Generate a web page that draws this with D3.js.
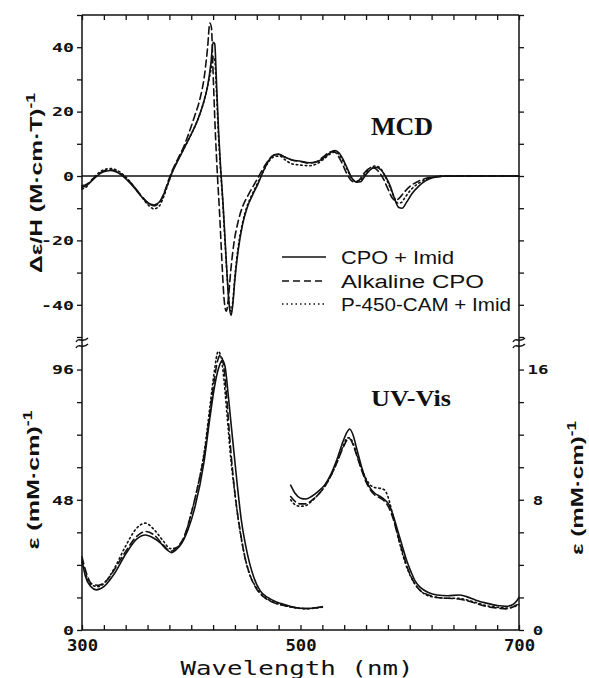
<!DOCTYPE html>
<html><head><meta charset="utf-8">
<script src="https://cdn.jsdelivr.net/npm/d3@7"></script>
<style>body{margin:0;background:#fff}svg{display:block}</style>
</head><body>
<script>
// ---------- DATA ----------
const xTicks = d3.range(300, 701, 20);
const xLabels = [300, 500, 700];
const mcdTicks = d3.range(-50, 51, 10);
const mcdLabels = [40, 20, 0, -20, -40];
const uvLeftTicks = d3.range(0, 97, 12);
const uvLeftLabels = [0, 48, 96];
const uvRightTicks = d3.range(0, 17, 2);
const uvRightLabels = [0, 8, 16];
const legendLabels = ["CPO + Imid", "Alkaline CPO", "P-450-CAM + Imid"];

// MCD  [wavelength nm, Δε/H]
const mcdCpoImid = [[300,-3.5],[304,-3.0],[308,-1.8],[313,-0.2],[319,1.2],[326,1.7],[333,1.0],[340,-0.8],[347,-3.3],[354,-6.2],[360,-8.3],[366,-9.0],[371,-8.0],[375,-5.5],[379,-2.0],[383,1.5],[388,5.0],[394,9.0],[400,13.0],[406,17.5],[411,22.5],[415,28],[418,35],[420,41.5],[421.5,41],[423,30],[425,14],[427,2],[429,-8],[431,-20],[433,-32],[435,-41],[436.5,-43.3],[438,-40],[440,-32],[443,-23],[447,-15],[451,-10],[456,-6],[461,-2.5],[466,1.5],[471,4.8],[476,6.6],[480,6.8],[485,6.0],[492,5.0],[500,4.6],[508,4.1],[515,4.4],[521,5.6],[527,7.2],[531,7.9],[535,7.3],[539,5.2],[543,2.2],[547,-0.6],[551,-1.9],[555,-1.8],[559,0.0],[564,2.0],[569,2.7],[574,1.8],[578,-0.2],[582,-3.0],[586,-7.0],[590,-9.8],[593,-10.0],[597,-8.2],[602,-5.5],[608,-3.2],[614,-1.6],[621,-0.5],[630,-0.1],[650,0],[700,0]];
const mcdAlkaline = [[300,-3.0],[304,-2.6],[308,-1.5],[313,0],[319,1.4],[326,1.9],[333,1.2],[340,-0.6],[347,-3.0],[354,-6.0],[360,-8.2],[366,-9.3],[371,-8.2],[375,-5.5],[379,-1.5],[383,2.0],[388,5.5],[393,9.0],[398,13.5],[403,18.5],[408,24],[412,31],[415,40],[417,47.5],[418.5,46],[420,32],[422,14],[424,0],[426,-12],[428,-26],[430,-38],[432,-42],[434,-38],[436,-30],[439,-21],[443,-14],[447,-9.5],[452,-6],[457,-3],[462,0],[467,3],[472,5.5],[477,6.6],[481,6.6],[486,5.8],[492,5.0],[500,4.5],[508,4.0],[515,4.5],[521,6.0],[526,7.3],[530,7.7],[534,6.5],[538,4.0],[542,1.0],[546,-1.2],[550,-2.0],[554,-1.2],[558,0.8],[563,2.3],[567,2.5],[572,1.2],[576,-1.0],[580,-4.0],[584,-6.8],[587,-7.6],[590,-7.0],[595,-5.0],[601,-3.0],[608,-1.6],[615,-0.7],[625,-0.2],[640,0],[700,0]];
const mcdP450 = [[300,-4.0],[304,-3.4],[308,-1.6],[313,0.3],[319,1.8],[326,2.3],[333,1.6],[340,-0.3],[347,-3.0],[354,-6.2],[360,-8.8],[366,-10.2],[371,-9.2],[375,-6.2],[379,-2.2],[383,1.5],[388,5.0],[394,9.0],[400,13.0],[406,17.5],[411,22.5],[415,28],[418,33],[420,37],[421.5,36],[423,27],[425,12],[427,1],[429,-9],[431,-21],[433,-32],[435,-40],[436.5,-42],[438,-39],[440,-31],[443,-22],[447,-14.5],[451,-9.5],[456,-5.5],[461,-2],[466,1.5],[471,4.5],[476,6.0],[481,6.2],[486,5.0],[492,3.8],[500,3.4],[508,3.2],[515,3.8],[521,5.2],[527,6.8],[531,7.4],[535,6.8],[539,4.6],[543,1.8],[547,-0.8],[551,-1.6],[555,-1.2],[559,0.6],[564,2.6],[569,3.1],[574,2.0],[578,-0.5],[582,-3.5],[586,-6.8],[589,-8.4],[592,-8.3],[596,-6.5],[601,-4.3],[607,-2.5],[614,-1.2],[621,-0.4],[630,0],[700,0]];

// UV-Vis Soret region (left axis, ε mM^-1 cm^-1)
const soretCpoImid = [[300,26],[303,20],[308,16],[313,14.8],[320,16],[330,21],[340,28],[350,33.5],[358,35],[365,34],[372,32],[378,29.5],[382,28.5],[386,29.5],[392,32.5],[397,37],[403.5,45.5],[411.5,61.5],[417,78],[421,89],[425,96.5],[428.5,99.4],[431,97],[434,86],[437,73.8],[442,54],[446,40],[450,30.7],[457,19.7],[463,14.5],[470,12],[478,10.3],[486,9.3],[495,8.3],[505,7.9],[512,8.1],[520,8.6]];
const soretAlkaline = [[300,27],[304,21],[309,17],[315,16.5],[322,18],[330,22.5],[340,29],[350,34.5],[358,36.3],[366,35],[374,31.5],[381,29],[387,30.5],[393,34],[400,43],[406,53],[412,65],[417,80],[421,92],[424,99],[426.5,101.3],[429,99],[432,88],[435,72],[438,58],[441,47],[445,36],[449,27],[454,20],[460,15],[467,12],[476,10],[485,9],[495,8.3],[505,7.9],[512,8.1],[520,8.5]];
const soretP450 = [[300,25],[304,20],[309,16.5],[315,16],[322,18],[330,23],[340,31],[350,37.5],[358,39.4],[366,37],[374,33],[381,30],[387,30.5],[393,33.5],[400,43],[406,53],[412,66],[417,82],[421,95],[424.7,102.7],[427,101],[430,92],[433,78],[436,64],[440,50],[444,38],[448,29],[453,21],[459,16],[466,12.5],[475,10.3],[485,9],[495,8.2],[505,7.8],[512,8.0],[520,8.4]];

// UV-Vis visible region (right axis)
const visCpoImid = [[491,8.9],[495,8.4],[500,8.1],[505,8.05],[510,8.2],[516,8.5],[522,8.9],[528,9.6],[534,10.6],[539,11.6],[543,12.2],[545,12.35],[548,12.0],[552,11.0],[556,10.0],[560,9.2],[564,8.7],[568,8.4],[573,8.2],[577,8.0],[581,7.7],[585,7.0],[589,6.1],[593,5.2],[597,4.3],[601,3.6],[605,3.0],[610,2.6],[617,2.3],[625,2.15],[635,2.1],[645,2.15],[652,2.05],[660,1.85],[670,1.65],[680,1.5],[688,1.45],[694,1.55],[698,1.8],[700,2.0]];
const visAlkaline = [[491,8.2],[495,7.9],[500,7.75],[505,7.75],[510,7.95],[516,8.3],[522,8.8],[528,9.5],[534,10.4],[539,11.2],[543,11.7],[545,11.75],[548,11.4],[552,10.6],[556,9.8],[560,9.1],[564,8.6],[568,8.3],[573,8.1],[577,7.9],[581,7.5],[585,6.8],[589,5.8],[593,4.9],[597,4.0],[601,3.3],[605,2.8],[610,2.4],[617,2.15],[625,2.0],[635,1.95],[645,1.9],[652,1.8],[660,1.65],[670,1.45],[680,1.35],[688,1.3],[694,1.4],[698,1.55],[700,1.6]];
const visP450 = [[491,8.0],[495,7.7],[500,7.6],[505,7.65],[510,7.9],[516,8.3],[522,8.8],[528,9.5],[534,10.4],[539,11.3],[543,11.8],[545,11.8],[548,11.5],[552,10.7],[556,9.9],[560,9.3],[564,8.9],[568,8.75],[573,8.7],[577,8.6],[580,8.2],[584,7.2],[588,6.1],[592,5.0],[596,4.1],[600,3.4],[605,2.8],[610,2.4],[617,2.1],[625,2.0],[635,1.95],[645,1.95],[652,1.85],[660,1.7],[670,1.5],[680,1.4],[688,1.35],[694,1.4],[698,1.5],[700,1.55]];

// ---------- DRAW ----------
const W = 589, H = 678;
const L = 82, R = 519, T = 15, B = 630, MID = 337;
const ink = "#111";
const svg = d3.select("body").append("svg").attr("width", W).attr("height", H);
svg.append("rect").attr("width", W).attr("height", H).attr("fill", "#fff");

const x = d3.scaleLinear([300, 700], [L, R]);
const yM = d3.scaleLinear([-50, 50], [MID, T]);
const yL = d3.scaleLinear([0, 108], [B, MID]);
const yR = d3.scaleLinear([0, 18], [B, MID]);

const mono = "'DejaVu Sans Mono', 'Liberation Mono', monospace";
const sans = "'Liberation Sans', Arial, Helvetica, sans-serif";
const serif = "'Liberation Serif', 'Times New Roman', serif";

function styleAxis(g) {
  g.select(".domain").remove();
  g.selectAll(".tick line").attr("stroke", ink).attr("stroke-width", 1.3);
  g.selectAll(".tick text").attr("fill", ink).attr("font-family", mono).attr("font-weight", "bold");
}
function fmt(labels) { return d => labels.includes(d) ? String(d) : ""; }

// bottom axis
const gB = svg.append("g").attr("transform", `translate(0,${B})`)
  .call(d3.axisBottom(x).tickValues(xTicks).tickSize(-5).tickSizeOuter(0).tickFormat(fmt(xLabels)));
styleAxis(gB);
gB.selectAll(".tick text").attr("y", 21).attr("dy", null).attr("font-size", 15)
  .each(function(){ const t=d3.select(this).text(); if (t) d3.select(this).attr("textLength", t.length*10.4).attr("lengthAdjust","spacingAndGlyphs"); });
// top axis
const gT = svg.append("g").attr("transform", `translate(0,${T})`)
  .call(d3.axisTop(x).tickValues(xTicks).tickSize(-5).tickSizeOuter(0).tickFormat(""));
styleAxis(gT);

// left axes
function leftTexts(g) {
  g.selectAll(".tick text").attr("x", -8).attr("font-size", 12).attr("dy", "0.36em")
    .each(function(){ const t=d3.select(this).text(); if (t) d3.select(this).attr("textLength", t.length*11).attr("lengthAdjust","spacingAndGlyphs"); });
}
const gLM = svg.append("g").attr("transform", `translate(${L},0)`)
  .call(d3.axisLeft(yM).tickValues(mcdTicks).tickSize(5).tickSizeOuter(0).tickFormat(fmt(mcdLabels)));
styleAxis(gLM); leftTexts(gLM);
const gLU = svg.append("g").attr("transform", `translate(${L},0)`)
  .call(d3.axisLeft(yL).tickValues(uvLeftTicks).tickSize(5).tickSizeOuter(0).tickFormat(fmt(uvLeftLabels)));
styleAxis(gLU); leftTexts(gLU);

// right axes
const gRM = svg.append("g").attr("transform", `translate(${R},0)`)
  .call(d3.axisRight(yM).tickValues(mcdTicks).tickSize(5).tickSizeOuter(0).tickFormat(""));
styleAxis(gRM);
const gRU = svg.append("g").attr("transform", `translate(${R},0)`)
  .call(d3.axisRight(yR).tickValues(uvRightTicks).tickSize(5).tickSizeOuter(0).tickFormat(fmt(uvRightLabels)));
styleAxis(gRU);
gRU.selectAll(".tick text").attr("x", 19).attr("text-anchor", "middle").attr("font-size", 12).attr("dy", "0.36em")
  .each(function(){ const t=d3.select(this).text(); if (t) d3.select(this).attr("textLength", t.length*10.5).attr("lengthAdjust","spacingAndGlyphs"); });

// frame
const frame = svg.append("g").attr("stroke", ink).attr("stroke-width", 1.5).attr("fill", "none");
frame.append("line").attr("x1", L).attr("x2", R).attr("y1", T).attr("y2", T);
frame.append("line").attr("x1", L).attr("x2", R).attr("y1", B).attr("y2", B);
frame.append("line").attr("x1", L).attr("x2", L).attr("y1", T).attr("y2", B);
frame.append("line").attr("x1", R).attr("x2", R).attr("y1", T).attr("y2", B);
// zero line of MCD
frame.append("line").attr("x1", L).attr("x2", R).attr("y1", yM(0)).attr("y2", yM(0));

// axis break marks
[L, R].forEach(ax => {
  [340, 346].forEach(by => {
    svg.append("path")
      .attr("d", `M${ax-6},${by+2} C${ax-3},${by-4} ${ax},${by+4} ${ax+6},${by-2}`)
      .attr("fill", "none").attr("stroke", ink).attr("stroke-width", 1.5);
  });
});

// series
const styles = [
  { dash: null, w: 1.6 },
  { dash: "7,4", w: 1.6 },
  { dash: "1.5,3", w: 1.6 }
];
function drawSeries(data, ys, st) {
  const line = d3.line().x(d => x(d[0])).y(d => ys(d[1])).curve(d3.curveMonotoneX);
  svg.append("path").datum(data).attr("d", line).attr("fill", "none")
    .attr("stroke", ink).attr("stroke-width", st.w).attr("stroke-dasharray", st.dash)
    .attr("stroke-linejoin", "round").attr("stroke-linecap", "round");
}
[mcdCpoImid, mcdAlkaline, mcdP450].forEach((d, i) => drawSeries(d, yM, styles[i]));
[soretCpoImid, soretAlkaline, soretP450].forEach((d, i) => drawSeries(d, yL, styles[i]));
[visCpoImid, visAlkaline, visP450].forEach((d, i) => drawSeries(d, yR, styles[i]));

// legend
const legY = [257, 281, 304];
const legW = [113, 143, 170];
legendLabels.forEach((lab, i) => {
  svg.append("line").attr("x1", 282).attr("x2", 326).attr("y1", legY[i]).attr("y2", legY[i])
    .attr("stroke", ink).attr("stroke-width", 1.4).attr("stroke-dasharray", styles[i].dash);
  svg.append("text").attr("x", 341).attr("y", legY[i] + 6.5).attr("font-family", sans)
    .attr("font-size", 18).attr("fill", ink).attr("textLength", legW[i]).attr("lengthAdjust", "spacingAndGlyphs")
    .text(lab);
});

// panel titles
svg.append("text").attr("x", 402).attr("y", 135).attr("text-anchor", "middle")
  .attr("font-family", serif).attr("font-weight", "bold").attr("font-size", 26).attr("fill", ink).text("MCD");
svg.append("text").attr("x", 411).attr("y", 406).attr("text-anchor", "middle")
  .attr("font-family", serif).attr("font-weight", "bold").attr("font-size", 23).attr("fill", ink)
  .attr("textLength", 80).attr("lengthAdjust", "spacingAndGlyphs").text("UV-Vis");

// axis titles
function yTitle(tx, ty, len, main) {
  const t = svg.append("text").attr("transform", `translate(${tx},${ty}) rotate(-90)`)
    .attr("text-anchor", "middle").attr("font-family", sans).attr("font-weight", "bold")
    .attr("font-size", 17).attr("fill", ink).attr("textLength", len).attr("lengthAdjust", "spacingAndGlyphs");
  t.append("tspan").text(main);
  t.append("tspan").attr("dy", -7).attr("font-size", 12).text("-1");
}
yTitle(42, 183, 180, "Δε/H  (M·cm·T)");
yTitle(39, 480, 139, "ε (mM·cm)");
yTitle(583, 488, 134, "ε (mM·cm)");

svg.append("text").attr("x", 297).attr("y", 675).attr("text-anchor", "middle")
  .attr("font-family", mono).attr("font-size", 19).attr("fill", ink)
  .attr("textLength", 233).attr("lengthAdjust", "spacingAndGlyphs").text("Wavelength (nm)");
</script>
</body></html>
